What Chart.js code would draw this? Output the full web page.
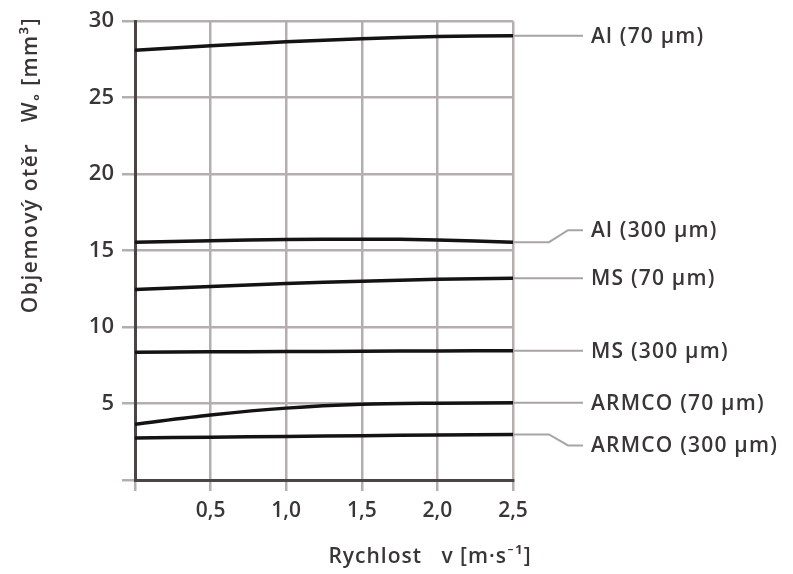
<!DOCTYPE html>
<html>
<head>
<meta charset="utf-8">
<script src="https://cdn.jsdelivr.net/npm/chart.js@4/dist/chart.umd.min.js"></script>
<style>
  html, body { margin: 0; padding: 0; background: #fff; }
  #wrap { width: 793px; height: 574px; }
</style>
</head>
<body>
<div id="wrap"><canvas id="myChart"></canvas></div>
<script>
// speed v [m/s]
const speeds = [0, 0.5, 1.0, 1.5, 2.0, 2.5];

// volume wear W [mm3] per material / particle size
const al70 = [28.1, 28.4, 28.65, 28.85, 29.0, 29.05];
const al300 = [15.55, 15.65, 15.72, 15.75, 15.7, 15.55];
const ms70 = [12.45, 12.65, 12.85, 13.0, 13.12, 13.2];
const ms300 = [8.35, 8.38, 8.4, 8.42, 8.44, 8.45];
const armco70 = [3.65, 4.25, 4.7, 4.95, 5.02, 5.05];
const armco300 = [2.75, 2.8, 2.85, 2.9, 2.95, 2.98];

const seriesNames = ["Al (70 µm)", "Al (300 µm)", "MS (70 µm)", "MS (300 µm)", "ARMCO (70 µm)", "ARMCO (300 µm)"];
const seriesValues = [al70, al300, ms70, ms300, armco70, armco300];
// label shift from line end (px), the two crowded ones get a kinked leader
const labelShift = [0, -12, 0, 0, 0, 11];

const textColor = '#3a3636';
const fontFam = '"Open Sans", Lato, sans-serif';

const datasets = seriesValues.map((vals, i) => ({
  label: seriesNames[i],
  data: vals.map((v, j) => ({ x: speeds[j], y: v })),
  borderColor: '#141212',
  borderWidth: 3.5,
  pointRadius: 0,
  tension: 0.3,
  fill: false
}));

// labels on the right with grey leader lines, plus axis titles
const annotate = {
  id: 'annotate',
  afterDraw(chart) {
    const ctx = chart.ctx;
    const area = chart.chartArea;
    const ys = chart.scales.y;
    ctx.save();
    chart.data.datasets.forEach((ds, i) => {
      const vals = seriesValues[i];
      const yLine = ys.getPixelForValue(vals[vals.length - 1]);
      const yText = yLine + labelShift[i];
      const x0 = area.right;
      ctx.strokeStyle = '#aaa3a3';
      ctx.lineWidth = 2;
      ctx.beginPath();
      ctx.moveTo(x0, yLine);
      if (labelShift[i] !== 0) {
        ctx.lineTo(x0 + 36, yLine);
        ctx.lineTo(x0 + 55, yText);
      }
      ctx.lineTo(x0 + 70, yText);
      ctx.stroke();
      ctx.fillStyle = textColor;
      ctx.font = '600 21px ' + fontFam;
      ctx.letterSpacing = '1.2px';
      ctx.textAlign = 'left';
      ctx.textBaseline = 'middle';
      ctx.fillText(ds.label, x0 + 78, yText + 1);
    });

    ctx.fillStyle = textColor;
    ctx.font = '600 21px ' + fontFam;
    ctx.letterSpacing = '1px';
    ctx.textAlign = 'center';
    ctx.textBaseline = 'middle';
    ctx.fillText('Rychlost   v [m·s⁻¹]', 430, 557);

    ctx.translate(31, 165);
    ctx.rotate(-Math.PI / 2);
    ctx.letterSpacing = '1.5px';
    ctx.fillText('Objemový otěr   Wₒ [mm³]', 0, 0);
    ctx.restore();
  }
};

const config = {
  type: 'line',
  data: { datasets: datasets },
  options: {
    responsive: true,
    maintainAspectRatio: false,
    animation: false,
    layout: { padding: { left: 0, right: 280, top: 20, bottom: 20 } },
    plugins: { legend: { display: false }, tooltip: { enabled: false } },
    scales: {
      x: {
        type: 'linear',
        min: 0,
        max: 2.5,
        afterFit(scale) { scale.height = 74; },
        ticks: {
          stepSize: 0.5,
          color: textColor,
          font: { family: fontFam, size: 21, weight: '600' },
          padding: 7,
          callback: (v) => v === 0 ? '' : v.toFixed(1).replace('.', ',')
        },
        grid: { color: '#b5aeae', lineWidth: 2.5, tickLength: 11 },
        border: { color: '#4a4444', width: 3 }
      },
      y: {
        min: 0,
        max: 30,
        afterFit(scale) { scale.width = 135; },
        ticks: {
          stepSize: 5,
          color: textColor,
          font: { family: fontFam, size: 22, weight: '600' },
          padding: 8,
          callback: (v) => v === 0 ? '' : v
        },
        grid: { color: '#b5aeae', lineWidth: 2.5, tickLength: 13 },
        border: { color: '#4a4444', width: 3 }
      }
    }
  },
  plugins: [annotate]
};

var myChart = new Chart(document.getElementById('myChart'), config);
</script>
</body>
</html>
